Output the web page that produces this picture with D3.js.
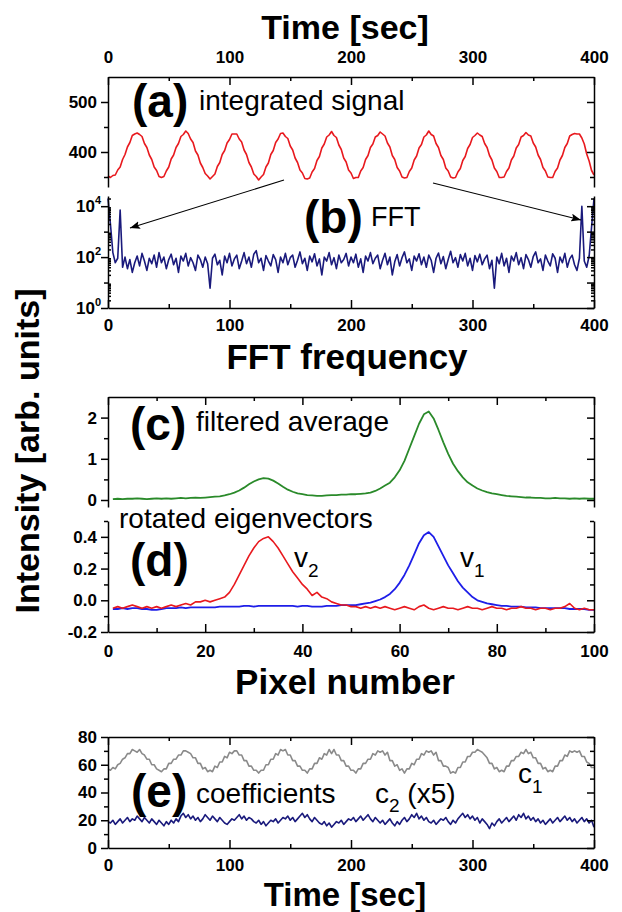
<!DOCTYPE html>
<html><head><meta charset="utf-8">
<script src="https://cdn.jsdelivr.net/npm/d3@7"></script>
<style>body{margin:0;background:#fff}svg{display:block}</style>
</head><body>
<svg id="c" width="622" height="912"></svg>
<script>
// ---------------- DATA ----------------
const timeTicks = [0,100,200,300,400];
const timeMinor = [50,150,250,350];
const pixelTicks = [0,20,40,60,80,100];
const pixelMinor = [10,30,50,70,90];

// (a) integrated signal, sampled every 2 s from 0 to 400
const integratedSignal = [
352,349,353,354,364,370,385,395,410,419,
433,436,438,435,431,417,409,394,385,370,
363,351,349,351,362,370,386,394,409,417,
431,435,442,437,426,419,402,394,378,369,
357,352,346,351,356,371,379,395,403,418,
425,436,436,436,426,420,404,395,379,370,
356,351,344,350,355,370,378,395,403,419,
426,437,438,431,427,412,404,388,379,364,
358,347,346,348,360,367,383,391,408,416,
430,434,441,433,429,414,405,388,380,364,
358,347,349,349,362,369,385,393,409,416,
430,433,440,436,432,418,410,393,385,369,
362,350,348,349,361,368,384,392,408,415,
430,434,442,435,432,417,409,393,385,368,
362,350,348,349,360,367,383,391,407,415,
429,433,438,434,431,417,409,393,384,368,
361,349,349,350,361,368,384,392,408,415,
430,433,439,434,432,418,410,394,385,369,
362,350,349,349,361,368,384,393,409,417,
432,435,437,436,436,428,416,396,382,363,
354];

// (b) FFT magnitude, every 2nd frequency bin 0..400
const fftValues = [
20000,2000,150,60,90,7000,40,100,35,80,
25,60,110,45,140,70,30,90,55,120,
40,150,60,100,35,80,130,50,90,25,
110,70,140,45,95,60,30,120,80,40,
100,55,6,90,130,50,75,20,110,60,
140,45,85,120,35,70,150,55,100,40,
130,180,60,90,30,115,70,45,125,80,
25,100,60,140,50,95,120,40,75,160,
55,90,30,110,65,135,45,85,20,100,
70,150,50,95,35,120,60,80,140,45,
100,60,130,40,85,25,110,70,150,55,
90,120,35,75,140,50,100,20,65,125,
45,95,160,60,85,30,110,70,135,50,
100,40,120,75,25,90,145,55,105,35,
80,170,60,95,40,125,70,140,45,90,
30,115,65,130,50,85,120,35,75,6,
100,55,140,45,90,25,110,70,150,50,
95,35,125,80,40,105,160,60,85,30,
120,70,45,135,90,25,100,60,140,40,
85,120,50,30,90,10000,70,40,110,1500,
20000];

// (c) filtered average, pixels 1..100
const filteredAverage = [
0.02,0.03,0.02,0.03,0.03,0.04,0.03,0.02,0.03,0.04,
0.03,0.04,0.03,0.04,0.05,0.04,0.05,0.06,0.05,0.06,
0.07,0.08,0.09,0.11,0.14,0.18,0.23,0.30,0.38,0.45,
0.50,0.53,0.52,0.47,0.40,0.32,0.25,0.20,0.16,0.14,
0.12,0.11,0.10,0.10,0.11,0.12,0.12,0.13,0.13,0.14,
0.14,0.15,0.16,0.18,0.22,0.28,0.35,0.42,0.55,0.72,
0.95,1.25,1.55,1.85,2.08,2.15,1.98,1.70,1.40,1.12,
0.88,0.70,0.55,0.43,0.35,0.28,0.23,0.19,0.16,0.14,
0.12,0.10,0.09,0.08,0.07,0.06,0.06,0.05,0.05,0.04,
0.04,0.05,0.04,0.04,0.03,0.04,0.03,0.04,0.03,0.03];

// (d) rotated eigenvectors, pixels 1..100
const eigenV2 = [
-0.05,-0.04,-0.05,-0.04,-0.03,-0.04,-0.05,-0.04,-0.05,-0.04,
-0.05,-0.04,-0.03,-0.04,-0.03,-0.02,-0.03,-0.01,-0.01,0.00,
-0.01,0.00,0.01,0.02,0.05,0.10,0.16,0.22,0.28,0.33,
0.37,0.39,0.40,0.37,0.33,0.28,0.23,0.18,0.14,0.10,
0.07,0.03,0.05,0.02,0.01,-0.01,-0.02,-0.03,-0.03,-0.04,
-0.04,-0.05,-0.04,-0.05,-0.04,-0.05,-0.04,-0.05,-0.06,-0.05,
-0.04,-0.05,-0.06,-0.04,-0.03,-0.05,-0.06,-0.05,-0.04,-0.05,
-0.05,-0.06,-0.05,-0.04,-0.05,-0.05,-0.06,-0.05,-0.04,-0.05,
-0.05,-0.06,-0.05,-0.05,-0.04,-0.05,-0.05,-0.06,-0.05,-0.05,
-0.06,-0.05,-0.05,-0.04,-0.02,-0.05,-0.06,-0.05,-0.06,-0.06];
const eigenV1 = [
-0.055,-0.055,-0.05,-0.055,-0.05,-0.05,-0.055,-0.055,-0.06,-0.06,
-0.055,-0.05,-0.05,-0.05,-0.045,-0.05,-0.045,-0.045,-0.045,-0.045,
-0.045,-0.045,-0.04,-0.04,-0.04,-0.04,-0.04,-0.035,-0.035,-0.04,
-0.035,-0.035,-0.035,-0.035,-0.035,-0.035,-0.035,-0.035,-0.04,-0.035,
-0.035,-0.04,-0.04,-0.04,-0.035,-0.035,-0.035,-0.03,-0.03,-0.03,
-0.03,-0.025,-0.02,-0.015,-0.005,0.005,0.02,0.04,0.07,0.11,
0.16,0.22,0.29,0.36,0.41,0.43,0.40,0.34,0.28,0.22,
0.17,0.12,0.08,0.05,0.02,0.0,-0.01,-0.02,-0.025,-0.03,
-0.035,-0.035,-0.04,-0.04,-0.04,-0.045,-0.045,-0.045,-0.05,-0.05,
-0.05,-0.05,-0.05,-0.05,-0.055,-0.055,-0.055,-0.055,-0.06,-0.06];

// (e) coefficients, every 2 s from 0 to 400
const coefC1 = [
57,56,58,57,60,61,64,65,68,68,
71,70,69,71,68,67,64,64,60,60,
57,56,55,57,57,61,61,64,64,67,
67,70,70,69,68,65,65,61,61,57,
58,55,56,55,59,58,62,62,66,65,
69,68,70,70,67,67,63,63,59,59,
56,56,54,56,56,60,60,64,64,68,
67,71,70,71,67,67,63,63,59,59,
56,56,54,57,57,61,61,65,64,68,
67,71,68,71,67,67,63,63,59,59,
56,56,54,57,57,61,61,64,64,68,
67,70,69,70,67,69,63,63,59,60,
56,57,54,57,57,61,60,64,64,68,
67,70,69,70,67,69,63,63,59,59,
58,54,55,54,58,58,62,62,66,66,
69,69,71,70,69,67,65,61,61,57,
58,55,56,55,59,59,63,63,66,66,
69,68,71,68,69,65,65,61,61,57,
58,55,56,55,59,59,63,63,67,66,
70,69,70,69,70,66,66,62,61,58,
58];
const coefC2x5 = [
19,18,20,17,19,21,18,20,22,19,
21,20,23,21,19,22,20,18,21,19,
17,20,18,16,19,17,20,18,21,19,
23,25,22,24,21,23,20,22,19,21,
24,22,20,23,21,19,22,20,18,17,
19,21,20,22,24,21,23,20,22,21,
19,18,20,17,19,16,18,20,19,21,
18,20,22,21,23,20,22,19,21,23,
25,22,24,21,19,22,20,18,17,19,
16,18,15,17,19,18,20,17,19,21,
20,22,19,21,23,20,22,24,21,19,
22,20,18,20,17,19,21,18,16,19,
17,20,22,19,21,24,22,25,21,23,
20,22,19,18,20,17,19,21,20,22,
19,17,20,18,21,23,25,22,24,21,
23,20,22,18,21,19,17,14,18,16,
19,21,18,20,22,19,21,23,20,24,
22,25,21,23,20,22,19,21,18,20,
17,19,21,18,20,22,19,21,23,20,
22,19,21,18,20,22,19,21,18,20,
15];

// ---------------- DRAW ----------------
const svg = d3.select("#c");
const FONT = "'Liberation Sans', Arial, Helvetica, sans-serif";
const X0 = 108, X1 = 594;
const RED = "#e8191e", NAVY = "#1a1a7c", GREEN = "#2a8a2a", BLUE = "#1e1ee8", GRAY = "#8a8a8a";

const xTime = d3.scaleLinear().domain([0,400]).range([X0,X1]);
const xPix  = d3.scaleLinear().domain([0,100]).range([X0,X1]);
const yA = d3.scaleLinear().domain([330,550]).range([187,77]);
const yB = d3.scaleLog().domain([1, Math.pow(10,4.4)]).range([308,196]);
const yC = d3.scaleLinear().domain([-0.17,2.5]).range([507,397]);
const yD = d3.scaleLinear().domain([-0.2,0.5]).range([632,521]);
const yE = d3.scaleLinear().domain([0,80]).range([848,737]);

function timeOf(arr){ const step = 400/(arr.length-1); return arr.map((v,i)=>[i*step, v]); }
function pixOf(arr){ return arr.map((v,i)=>[i+1, v]); }

function drawLine(data, xs, ys, color, w){
  svg.append("path").datum(data)
    .attr("d", d3.line().x(d=>xs(d[0])).y(d=>ys(d[1])))
    .attr("fill","none").attr("stroke",color).attr("stroke-width",w||1.6)
    .attr("stroke-linejoin","round");
}

drawLine(timeOf(integratedSignal), xTime, yA, RED, 1.6);
drawLine(timeOf(fftValues), xTime, yB, NAVY, 1.6);
drawLine(pixOf(filteredAverage), xPix, yC, GREEN, 1.8);
drawLine(pixOf(eigenV1), xPix, yD, BLUE, 1.8);
drawLine(pixOf(eigenV2), xPix, yD, RED, 1.6);
drawLine(timeOf(coefC1), xTime, yE, GRAY, 1.6);
drawLine(timeOf(coefC2x5), xTime, yE, NAVY, 1.6);

function addAxis(axis, tx, ty, keepDomain){
  const g = svg.append("g").attr("transform",`translate(${tx},${ty})`).call(axis);
  g.select(".domain").attr("stroke", keepDomain ? "#000" : "none").attr("stroke-width",1.5);
  g.selectAll(".tick line").attr("stroke","#000").attr("stroke-width",1.5);
  g.selectAll(".tick text").attr("font-family",FONT).attr("font-weight","bold")
    .attr("font-size",17).attr("fill","#000");
  return g;
}
const noLab = () => "";

// ---- panel (a)
addAxis(d3.axisTop(xTime).tickValues(timeTicks).tickSizeInner(-8).tickSizeOuter(0).tickPadding(14).tickFormat(d3.format("d")), 0, 77, true);
addAxis(d3.axisTop(xTime).tickValues(timeMinor).tickSizeInner(-4).tickSizeOuter(0).tickFormat(noLab), 0, 77, false);
addAxis(d3.axisLeft(yA).tickValues([400,500]).tickSizeInner(7).tickSizeOuter(0).tickPadding(4).tickFormat(d3.format("d")), X0, 0, true);
addAxis(d3.axisLeft(yA).tickValues([350,450]).tickSizeInner(4).tickSizeOuter(0).tickFormat(noLab), X0, 0, false);
addAxis(d3.axisRight(yA).tickValues([400,500]).tickSizeInner(-7).tickSizeOuter(0).tickFormat(noLab), X1, 0, true);
addAxis(d3.axisRight(yA).tickValues([350,450]).tickSizeInner(-4).tickSizeOuter(0).tickFormat(noLab), X1, 0, false);

// ---- panel (b)
const decMajor = [1,100,10000], decMinor = [10,1000];
const logMinor = [];
[1,10,100,1000,10000].forEach(d => { for (let k=2;k<=9;k++){ const v=d*k; if (v < Math.pow(10,4.4)) logMinor.push(v); } });
addAxis(d3.axisBottom(xTime).tickValues(timeTicks).tickSizeInner(-8).tickSizeOuter(0).tickPadding(11).tickFormat(d3.format("d")), 0, 308, true);
addAxis(d3.axisBottom(xTime).tickValues(timeMinor).tickSizeInner(-4).tickSizeOuter(0).tickFormat(noLab), 0, 308, false);
addAxis(d3.axisLeft(yB).tickValues(decMajor).tickSizeInner(7).tickSizeOuter(0).tickFormat(noLab), X0, 0, true);
addAxis(d3.axisLeft(yB).tickValues(decMinor).tickSizeInner(4).tickSizeOuter(0).tickFormat(noLab), X0, 0, false);
addAxis(d3.axisLeft(yB).tickValues(logMinor).tickSizeInner(-3).tickSizeOuter(0).tickFormat(noLab), X0, 0, false);
addAxis(d3.axisRight(yB).tickValues(decMajor.concat(decMinor)).tickSizeInner(-7).tickSizeOuter(0).tickFormat(noLab), X1, 0, true);
addAxis(d3.axisRight(yB).tickValues(logMinor).tickSizeInner(-3).tickSizeOuter(0).tickFormat(noLab), X1, 0, false);
const logLabels = [0,2,4];
logLabels.forEach(e => {
  const t = svg.append("text").attr("x", 101).attr("y", yB(Math.pow(10,e)) + 6)
    .attr("text-anchor","end").attr("font-family",FONT).attr("font-weight","bold").attr("font-size",17);
  t.append("tspan").text("10");
  t.append("tspan").attr("dy",-8).attr("font-size",11).text(e);
});

// ---- panel (c)
addAxis(d3.axisTop(xPix).tickValues(pixelTicks).tickSizeInner(-8).tickSizeOuter(0).tickFormat(noLab), 0, 397, true);
addAxis(d3.axisTop(xPix).tickValues(pixelMinor).tickSizeInner(-4).tickSizeOuter(0).tickFormat(noLab), 0, 397, false);
addAxis(d3.axisLeft(yC).tickValues([0,1,2]).tickSizeInner(7).tickSizeOuter(0).tickPadding(4).tickFormat(d3.format("d")), X0, 0, true);
addAxis(d3.axisLeft(yC).tickValues([0.5,1.5]).tickSizeInner(4).tickSizeOuter(0).tickFormat(noLab), X0, 0, false);
addAxis(d3.axisRight(yC).tickValues([0,1,2]).tickSizeInner(-7).tickSizeOuter(0).tickFormat(noLab), X1, 0, true);
addAxis(d3.axisRight(yC).tickValues([0.5,1.5]).tickSizeInner(-4).tickSizeOuter(0).tickFormat(noLab), X1, 0, false);

// ---- panel (d)
addAxis(d3.axisBottom(xPix).tickValues(pixelTicks).tickSizeInner(-8).tickSizeOuter(0).tickPadding(13).tickFormat(d3.format("d")), 0, 632, true);
addAxis(d3.axisBottom(xPix).tickValues(pixelMinor).tickSizeInner(-4).tickSizeOuter(0).tickFormat(noLab), 0, 632, false);
addAxis(d3.axisLeft(yD).tickValues([-0.2,0,0.2,0.4]).tickSizeInner(7).tickSizeOuter(0).tickPadding(4).tickFormat(d=>d.toFixed(1)), X0, 0, true);
addAxis(d3.axisLeft(yD).tickValues([-0.1,0.1,0.3,0.5]).tickSizeInner(4).tickSizeOuter(0).tickFormat(noLab), X0, 0, false);
addAxis(d3.axisRight(yD).tickValues([-0.2,0,0.2,0.4]).tickSizeInner(-7).tickSizeOuter(0).tickFormat(noLab), X1, 0, true);
addAxis(d3.axisRight(yD).tickValues([-0.1,0.1,0.3,0.5]).tickSizeInner(-4).tickSizeOuter(0).tickFormat(noLab), X1, 0, false);

// ---- panel (e)
addAxis(d3.axisTop(xTime).tickValues(timeTicks).tickSizeInner(-8).tickSizeOuter(0).tickFormat(noLab), 0, 737, true);
addAxis(d3.axisTop(xTime).tickValues(timeMinor).tickSizeInner(-4).tickSizeOuter(0).tickFormat(noLab), 0, 737, false);
addAxis(d3.axisBottom(xTime).tickValues(timeTicks).tickSizeInner(-8).tickSizeOuter(0).tickPadding(11).tickFormat(d3.format("d")), 0, 848, true);
addAxis(d3.axisBottom(xTime).tickValues(timeMinor).tickSizeInner(-4).tickSizeOuter(0).tickFormat(noLab), 0, 848, false);
addAxis(d3.axisLeft(yE).tickValues([0,20,40,60,80]).tickSizeInner(7).tickSizeOuter(0).tickPadding(4).tickFormat(d3.format("d")), X0, 0, true);
addAxis(d3.axisLeft(yE).tickValues([10,30,50,70]).tickSizeInner(4).tickSizeOuter(0).tickFormat(noLab), X0, 0, false);
addAxis(d3.axisRight(yE).tickValues([0,20,40,60,80]).tickSizeInner(-7).tickSizeOuter(0).tickFormat(noLab), X1, 0, true);
addAxis(d3.axisRight(yE).tickValues([10,30,50,70]).tickSizeInner(-4).tickSizeOuter(0).tickFormat(noLab), X1, 0, false);

// ---- titles & annotations
function txt(x, y, s, size, weight, anchor){
  return svg.append("text").attr("x",x).attr("y",y).attr("font-family",FONT)
    .attr("font-size",size).attr("font-weight",weight||"normal")
    .attr("text-anchor",anchor||"start").attr("fill","#000").text(s);
}
txt(345, 39, "Time [sec]", 34, "bold", "middle");
txt(347, 369, "FFT frequency", 35, "bold", "middle");
txt(345, 694, "Pixel number", 35, "bold", "middle");
txt(345, 906, "Time [sec]", 33, "bold", "middle");
svg.append("text").attr("transform","translate(39,451) rotate(-90)")
  .attr("text-anchor","middle").attr("font-family",FONT).attr("font-weight","bold")
  .attr("font-size",34).text("Intensity [arb. units]");

txt(132, 117, "(a)", 46, "bold");
txt(199, 110, "integrated signal", 28);
txt(304, 233, "(b)", 46, "bold");
txt(371, 226, "FFT", 27);
txt(130, 440, "(c)", 46, "bold");
txt(196, 431, "filtered average", 28);
txt(119, 528, "rotated eigenvectors", 28);
txt(130, 576, "(d)", 46, "bold");
const v2 = txt(294, 567, "v", 28); v2.append("tspan").attr("dy",10).attr("font-size",19).text("2");
const v1 = txt(460, 567, "v", 28); v1.append("tspan").attr("dy",10).attr("font-size",19).text("1");
txt(131, 807, "(e)", 46, "bold");
txt(196, 803, "coefficients", 28);
const c2 = txt(375, 803, "c", 28); c2.append("tspan").attr("dy",9).attr("font-size",19).text("2");
c2.append("tspan").attr("dy",-9).text(" (x5)");
const c1 = txt(518, 783, "c", 28); c1.append("tspan").attr("dy",10).attr("font-size",19).text("1");

// arrows
const defs = svg.append("defs");
defs.append("marker").attr("id","ah").attr("viewBox","0 0 10 8").attr("refX",10).attr("refY",4)
  .attr("markerWidth",10).attr("markerHeight",8).attr("markerUnits","userSpaceOnUse").attr("orient","auto")
  .append("path").attr("d","M0,0 L10,4 L0,8 L2,4 z").attr("fill","#000");
[[[284,180],[130,228]],[[433,183],[581,220]]].forEach(([a,b]) => {
  svg.append("line").attr("x1",a[0]).attr("y1",a[1]).attr("x2",b[0]).attr("y2",b[1])
    .attr("stroke","#000").attr("stroke-width",1.1).attr("marker-end","url(#ah)");
});
</script>
</body></html>
